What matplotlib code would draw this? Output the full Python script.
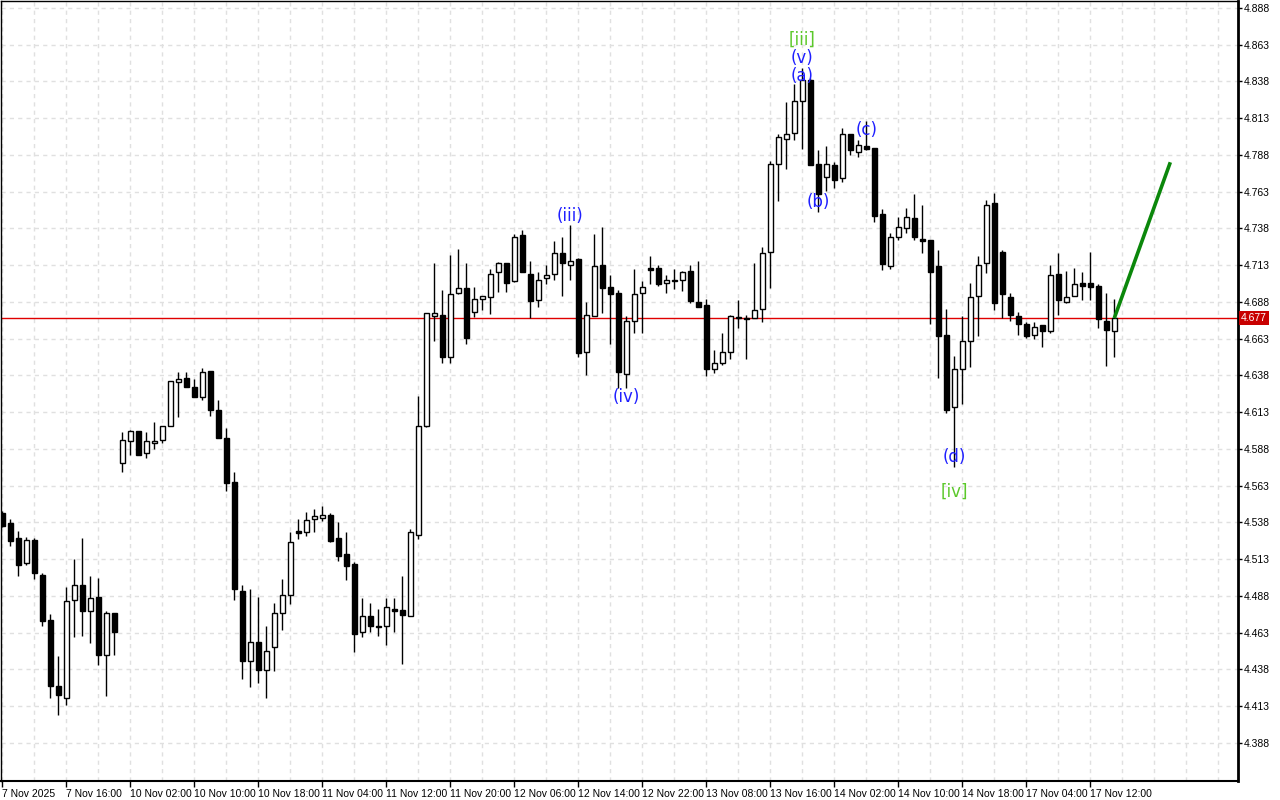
"""Hourly candles with Elliott-wave marks and a projected leg."""
import matplotlib

matplotlib.use("Agg")
import matplotlib.pyplot as plt
import numpy as np
from matplotlib.transforms import blended_transform_factory

OPEN = [
    4.5445, 4.5377, 4.5275, 4.5105, 4.5261, 4.5023, 4.4716, 4.4267, 4.4186, 4.4852,
    4.4955, 4.4777, 4.4873, 4.4478, 4.4764, 4.5784, 4.5934, 4.6002, 4.5852, 4.5920,
    4.5941, 4.6036, 4.6336, 4.6363, 4.6302, 4.6234, 4.6411, 4.6145, 4.5954, 4.5655,
    4.4914, 4.4437, 4.4566, 4.4376, 4.4532, 4.4764, 4.4886, 4.5322, 4.5315, 4.5404,
    4.5411, 4.5431, 4.5275, 4.5166, 4.5098, 4.4634, 4.4743, 4.4675, 4.4675, 4.4791,
    4.4784, 4.4743, 4.5295, 4.6036, 4.6784, 4.6791, 4.6505, 4.6941, 4.6975, 4.6811,
    4.6900, 4.6913, 4.7084, 4.7145, 4.7022, 4.7335, 4.7070, 4.6893, 4.7043, 4.7070,
    4.7213, 4.7131, 4.7172, 4.6539, 4.6784, 4.7131, 4.6981, 4.6941, 4.6390, 4.6750,
    4.6941, 4.7111, 4.7111, 4.7009, 4.7022, 4.7029, 4.7090, 4.6879, 4.6859, 4.6424,
    4.6464, 4.6539, 4.6770, 4.6770, 4.6770, 4.6832, 4.7220, 4.7818, 4.7988, 4.8029,
    4.8247, 4.8390, 4.7818, 4.7730, 4.7812, 4.7723, 4.8022, 4.7900, 4.7941, 4.7927,
    4.7478, 4.7124, 4.7322, 4.7383, 4.7451, 4.7308, 4.7301, 4.7124, 4.6654, 4.6166,
    4.6424, 4.6614, 4.6920, 4.7145, 4.7553, 4.7220, 4.6913, 4.6784, 4.6730, 4.6655,
    4.6723, 4.6682, 4.7070, 4.6879, 4.6920, 4.7009, 4.7009, 4.6988, 4.6750, 4.6682,
]
HIGH = [
    4.5458, 4.5404, 4.5322, 4.5281, 4.5275, 4.5037, 4.4757, 4.4471, 4.4941, 4.5132,
    4.5275, 4.5016, 4.5003, 4.4777, 4.4764, 4.5995, 4.6010, 4.6002, 4.5995, 4.6063,
    4.6036, 4.6342, 4.6404, 4.6404, 4.6356, 4.6431, 4.6411, 4.6213, 4.6023, 4.5723,
    4.4955, 4.4927, 4.4873, 4.4675, 4.4832, 4.4996, 4.5315, 4.5404, 4.5451, 4.5472,
    4.5492, 4.5445, 4.5383, 4.5315, 4.5111, 4.4866, 4.4832, 4.4791, 4.4866, 4.4866,
    4.5016, 4.5336, 4.6240, 4.6805, 4.7145, 4.6961, 4.7199, 4.7240, 4.7145, 4.6981,
    4.6920, 4.7104, 4.7152, 4.7145, 4.7342, 4.7369, 4.7158, 4.7084, 4.7131, 4.7294,
    4.7322, 4.7403, 4.7179, 4.6879, 4.7342, 4.7390, 4.7063, 4.6961, 4.6784, 4.7104,
    4.7022, 4.7192, 4.7131, 4.7063, 4.7104, 4.7090, 4.7131, 4.7158, 4.6900, 4.6553,
    4.6668, 4.6791, 4.6893, 4.6791, 4.7145, 4.7254, 4.7839, 4.8022, 4.8240, 4.8363,
    4.8471, 4.8403, 4.7914, 4.7941, 4.7832, 4.8063, 4.8022, 4.7982, 4.8111, 4.7927,
    4.7512, 4.7349, 4.7458, 4.7519, 4.7614, 4.7539, 4.7301, 4.7233, 4.6832, 4.6512,
    4.6784, 4.7009, 4.7192, 4.7573, 4.7621, 4.7233, 4.6941, 4.6811, 4.6743, 4.6743,
    4.6723, 4.7131, 4.7213, 4.7090, 4.7111, 4.7084, 4.7220, 4.7002, 4.6941, 4.6900,
]
LOW = [
    4.5349, 4.5220, 4.5016, 4.5091, 4.4996, 4.4675, 4.4186, 4.4070, 4.4138, 4.4600,
    4.4607, 4.4560, 4.4410, 4.4199, 4.4478, 4.5723, 4.5839, 4.5839, 4.5819, 4.5880,
    4.5920, 4.6036, 4.6097, 4.6302, 4.6234, 4.6213, 4.6104, 4.5954, 4.5594, 4.4852,
    4.4315, 4.4260, 4.4288, 4.4186, 4.4369, 4.4648, 4.4825, 4.5268, 4.5288, 4.5315,
    4.5390, 4.5247, 4.5118, 4.4989, 4.4498, 4.4600, 4.4634, 4.4607, 4.4546, 4.4634,
    4.4417, 4.4743, 4.5268, 4.6029, 4.6614, 4.6464, 4.6464, 4.6934, 4.6593, 4.6777,
    4.6825, 4.6798, 4.6948, 4.6948, 4.7016, 4.7084, 4.6770, 4.6845, 4.7002, 4.7029,
    4.6920, 4.7029, 4.6505, 4.6383, 4.6784, 4.6805, 4.6593, 4.6295, 4.6295, 4.6668,
    4.6668, 4.7002, 4.6988, 4.6941, 4.6968, 4.6954, 4.6873, 4.6845, 4.6376, 4.6396,
    4.6451, 4.6491, 4.6702, 4.6491, 4.6770, 4.6743, 4.6975, 4.7567, 4.7784, 4.7982,
    4.7920, 4.7812, 4.7492, 4.7635, 4.7655, 4.7696, 4.7880, 4.7866, 4.7914, 4.7424,
    4.7097, 4.7104, 4.7301, 4.7349, 4.7301, 4.7213, 4.6730, 4.6363, 4.6125, 4.5757,
    4.6186, 4.6437, 4.6648, 4.7077, 4.6825, 4.6770, 4.6750, 4.6655, 4.6634, 4.6627,
    4.6573, 4.6668, 4.6791, 4.6873, 4.6920, 4.6893, 4.6893, 4.6702, 4.6444, 4.6505,
]
CLOSE = [
    4.5356, 4.5254, 4.5091, 4.5261, 4.5037, 4.4709, 4.4267, 4.4206, 4.4845, 4.4955,
    4.4777, 4.4866, 4.4478, 4.4764, 4.4634, 4.5941, 4.6002, 4.5839, 4.5934, 4.5934,
    4.6036, 4.6342, 4.6356, 4.6302, 4.6234, 4.6404, 4.6145, 4.5954, 4.5648, 4.4927,
    4.4437, 4.4566, 4.4376, 4.4505, 4.4764, 4.4886, 4.5247, 4.5309, 4.5397, 4.5424,
    4.5431, 4.5254, 4.5152, 4.5084, 4.4621, 4.4743, 4.4675, 4.4668, 4.4804, 4.4777,
    4.4750, 4.5315, 4.6036, 4.6805, 4.6805, 4.6505, 4.6934, 4.6975, 4.6634, 4.6900,
    4.6920, 4.7070, 4.7145, 4.7009, 4.7322, 4.7084, 4.6886, 4.7029, 4.7063, 4.7213,
    4.7145, 4.7158, 4.6533, 4.6791, 4.7124, 4.6975, 4.6934, 4.6404, 4.6750, 4.6934,
    4.6981, 4.7097, 4.7002, 4.7029, 4.7029, 4.7084, 4.6886, 4.6845, 4.6424, 4.6464,
    4.6539, 4.6784, 4.6777, 4.6764, 4.6825, 4.7213, 4.7818, 4.8002, 4.8022, 4.8247,
    4.8390, 4.7812, 4.7614, 4.7818, 4.7710, 4.8022, 4.7914, 4.7948, 4.7920, 4.7465,
    4.7138, 4.7322, 4.7390, 4.7458, 4.7322, 4.7294, 4.7084, 4.6648, 4.6145, 4.6424,
    4.6614, 4.6913, 4.7131, 4.7539, 4.6873, 4.6934, 4.6791, 4.6730, 4.6648, 4.6709,
    4.6682, 4.7063, 4.6893, 4.6913, 4.7002, 4.6988, 4.6981, 4.6764, 4.6689, 4.6770,
]

TIME_LABELS = [
    "7 Nov 2025", "7 Nov 16:00", "10 Nov 02:00", "10 Nov 10:00", "10 Nov 18:00",
    "11 Nov 04:00", "11 Nov 12:00", "11 Nov 20:00", "12 Nov 06:00", "12 Nov 14:00",
    "12 Nov 22:00", "13 Nov 08:00", "13 Nov 16:00", "14 Nov 02:00", "14 Nov 10:00",
    "14 Nov 18:00", "17 Nov 04:00", "17 Nov 12:00",
]
BARS_PER_LABEL = 8
BARS_PER_GRID = 4

PRICE_TICKS = [4.388, 4.413, 4.438, 4.463, 4.488, 4.513, 4.538, 4.563, 4.588, 4.613,
               4.638, 4.663, 4.688, 4.713, 4.738, 4.763, 4.788, 4.813, 4.838, 4.863,
               4.888]
LAST_PRICE = 4.677

# elliott wave marks (bar index, price, text)
WAVE_TEXT = ["[iii]", "(v)", "(a)", "(iii)", "(iv)", "(b)", "(c)", "(d)", "[iv]"]
WAVE_BAR = [100, 100, 100, 71, 78, 102, 108, 119, 119]
WAVE_PRICE = [4.8662, 4.8539, 4.8417, 4.7465, 4.6233, 4.7560, 4.8050, 4.5825, 4.5587]
WAVE_MINOR = [False, True, True, True, True, True, True, True, False]

# projected leg
FORECAST_BAR = [139, 146]
FORECAST_PRICE = [4.677, 4.783]

BLUE = "#1F1FFF"
LIGHT_GREEN = "#5BC82A"
GRID = "#E0E0E0"
AXIS_FONT = "Liberation Sans"

o, h, l, c = (np.array(a) for a in (OPEN, HIGH, LOW, CLOSE))
x = np.arange(len(o))

fig = plt.figure(figsize=(12.8, 8), dpi=100)
ax = fig.add_axes([1 / 1280, 19 / 800, 1237 / 1280, 780 / 800])

for k in range(0, 156, BARS_PER_GRID):
    ax.axvline(k, color=GRID, lw=1, ls=(0, (3, 3)), zorder=0)
for p in PRICE_TICKS:
    ax.axhline(p, color=GRID, lw=1, ls=(0, (3, 3)), zorder=0)

ax.axhline(LAST_PRICE, color="#E00000", lw=1, zorder=1)

ax.vlines(x, l, h, color="black", lw=1, zorder=2)
bull = c >= o
ax.bar(x, np.maximum(np.abs(c - o), 0.0004), bottom=np.minimum(o, c), width=0.62,
       color=np.where(bull, "white", "black"), edgecolor="black", linewidth=1,
       zorder=3)

ax.plot(FORECAST_BAR, FORECAST_PRICE, color="#0B870B", lw=2.6,
        solid_capstyle="butt", zorder=5)

for txt, b, p, minor in zip(WAVE_TEXT, WAVE_BAR, WAVE_PRICE, WAVE_MINOR):
    ax.text(b, p, txt, color=BLUE if minor else LIGHT_GREEN, fontsize=12,
            ha="center", va="center", zorder=6)

ax.set_xlim(-0.16, 154.46)
ax.set_ylim(4.3621, 4.8927)

ax.set_xticks(np.arange(len(TIME_LABELS)) * BARS_PER_LABEL)
ax.set_xticklabels(TIME_LABELS, ha="left", fontsize=7.5, family=AXIS_FONT)
ax.yaxis.tick_right()
ax.set_yticks(PRICE_TICKS)
ax.set_yticklabels([f"{p:.3f}" for p in PRICE_TICKS], fontsize=7.5,
                   family=AXIS_FONT)
ax.tick_params(axis="x", length=4, pad=2, width=1)
ax.tick_params(axis="y", length=3, pad=1, width=1)

for side in ("top", "left"):
    ax.spines[side].set_linewidth(1)
ax.spines["right"].set_linewidth(2)
ax.spines["bottom"].set_linewidth(1.5)

tr = blended_transform_factory(ax.transAxes, ax.transData)
ax.text(1.0025, LAST_PRICE, f"{LAST_PRICE:.3f}", transform=tr, ha="left",
        va="center", color="white", fontsize=7.5, family=AXIS_FONT, zorder=7,
        bbox=dict(boxstyle="square,pad=0.18", fc="#C80000", ec="none"),
        clip_on=False)

fig.savefig("out.png", dpi=100)
